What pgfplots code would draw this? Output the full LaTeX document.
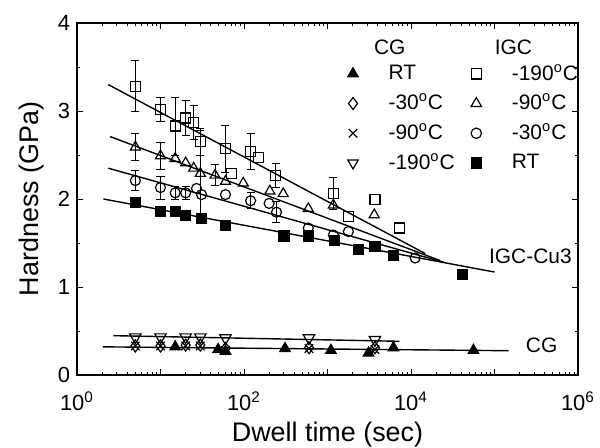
\documentclass[border=0pt]{standalone}
\usepackage{fontspec}
\setmainfont{Liberation Sans}
\usepackage{pgfplots}
\pgfplotsset{compat=1.18}

\pgfplotsset{
  fitline/.style={black, line width=0.7pt, no marks, forget plot},
  ebar/.style={draw=none, mark=none, forget plot,
    error bars/.cd, y dir=both, y explicit,
    error bar style={draw=black, solid, line width=0.5pt},
    error mark options={rotate=90, mark size=2bp, black, solid}},
  pts/.style={only marks, black, line width=0.6pt, forget plot},
  key/.style={only marks, black, line width=0.6pt},
}

\begin{document}
\begin{tikzpicture}
\begin{axis}[
  xmode=log,
  scale only axis,
  width=250.5bp, height=176bp,
  xmin=1, xmax=1e6, ymin=0, ymax=4,
  xtick={1,10,100,1000,10000,100000,1000000},
  xticklabels={10\textsuperscript{0},,10\textsuperscript{2},,10\textsuperscript{4},,10\textsuperscript{6}},
  ytick={0,1,2,3,4},
  minor ytick={0.5,1.5,2.5,3.5},
  tick align=inside,
  major tick length=3bp, minor tick length=1.5bp,
  tick style={black, line width=0.5pt},
  axis line style={black, line width=0.7pt},
  /pgf/number format/assume math mode=true,
  tick label style={font=\fontsize{11}{13}\selectfont},
  xticklabel style={yshift=-5bp},
  label style={font=\fontsize{13.5}{16}\selectfont},
  xlabel={Dwell time (sec)},
  ylabel={Hardness (GPa)},
  xlabel style={at={(axis description cs:0.5,-0.1903)}, anchor=base},
  ylabel style={at={(axis description cs:-0.09,0.5)}, anchor=center},
  clip=false,
  legend columns=2,
  legend cell align=left,
  legend image code/.code={\path (0bp,0bp) (16bp,0bp); \draw[#1] plot coordinates {(8bp,0bp)};},
  legend style={draw=none, fill=none, at={(axis description cs:0.517,0.895)},
    anchor=north west, inner xsep=0pt, inner ysep=0pt,
    font=\fontsize{10.5}{12}\selectfont, row sep=1.5bp,
    /tikz/every odd column/.append style={column sep=7.5bp},
    /tikz/every even column/.append style={column sep=0.5bp}},
]
\coordinate (o) at (rel axis cs:0,0);

% fitted lines
\addplot[fitline] coordinates {(2.37,3.30) (14800,1.38)};
\addplot[fitline] coordinates {(2.48,2.71) (22400,1.30)};
\addplot[fitline] coordinates {(2.37,2.35) (25000,1.28)};
\addplot[fitline] coordinates {(2.07,2.00) (100000,1.17)};
\addplot[fitline] coordinates {(2.72,0.447) (7244,0.383)};
\addplot[fitline] coordinates {(2.04,0.32) (148000,0.276)};

% error bars
\addplot[ebar] table[x=t, y=h, y error=e] {
t h e
5 3.28 0.29
10 3.02 0.14
15 2.83 0.33
20 2.92 0.20
25 2.87 0.19
30 2.65 0.15
60 2.57 0.27
120 2.54 0.20
240 2.27 0.14
1175 2.06 0.18
};
\addplot[ebar] table[x=t, y=h, y error=e] {
t h e
5 2.59 0.15
10 2.49 0.15
30 2.29 0.49
45 2.27 0.12
};
\addplot[ebar] table[x=t, y=h, y error=e] {
t h e
5 2.21 0.11
10 2.13 0.13
15 2.07 0.07
20 2.07 0.07
120 1.98 0.09
245 1.85 0.12
};

% IGC -190
\addplot[pts, mark=square, mark size=2.5bp] table {
5 3.28
10 3.02
15 2.83
20 2.92
25 2.87
30 2.65
60 2.57
71 2.29
120 2.54
150 2.47
240 2.27
1175 2.06
1780 1.80
3715 1.99
7244 1.67
};
% IGC -90
\addplot[pts, mark=triangle, mark size=2.9bp] table {
5 2.59
10 2.49
15 2.46
20 2.41
25 2.35
30 2.29
45 2.27
60 2.20
98 2.18
204 2.09
295 2.06
589 1.89
1175 1.93
3630 1.82
};
% IGC -30
\addplot[pts, mark=o, mark size=2.5bp] table {
5 2.21
10 2.13
15 2.07
20 2.07
27 2.12
31 2.05
60 2.05
120 1.98
200 1.95
245 1.85
589 1.67
1175 1.59
1778 1.63
11220 1.33
};
% IGC RT
\addplot[pts, mark=square*, mark size=2.5bp, fill=black] table {
5 1.96
10 1.86
15 1.86
20 1.81
31 1.78
60 1.70
302 1.58
589 1.58
1200 1.53
2344 1.43
3715 1.46
6166 1.36
41687 1.14
};
% CG -190
\addplot[pts, mark=triangle, mark size=3.3bp, mark options={rotate=180}] table {
5 0.43
10 0.43
20 0.43
30 0.43
60 0.42
600 0.42
3700 0.40
};
% CG -30
\addplot[pts, mark=diamond, mark size=3bp] table {
5 0.33
10 0.33
20 0.34
30 0.34
60 0.30
600 0.31
3700 0.31
};
% CG -90
\addplot[pts, mark=x, mark size=3bp] table {
5 0.33
10 0.33
20 0.33
30 0.33
60 0.28
600 0.30
3700 0.29
};
% CG RT
\addplot[pts, mark=triangle*, mark size=3bp, fill=black] table {
15 0.32
49 0.29
60 0.27
310 0.30
1100 0.28
3100 0.25
6170 0.31
56000 0.28
};

% legend keys, read row by row: CG column left, IGC column right
\addlegendimage{key, mark=triangle*, mark size=3bp, fill=black}\addlegendentry{RT}
\addlegendimage{key, mark=square, mark size=2.6bp}\addlegendentry{-190\textsuperscript{o}C}
\addlegendimage{key, mark=diamond, mark size=3bp}\addlegendentry{-30\textsuperscript{o}C}
\addlegendimage{key, mark=triangle, mark size=3bp}\addlegendentry{-90\textsuperscript{o}C}
\addlegendimage{key, mark=x, mark size=3bp}\addlegendentry{-90\textsuperscript{o}C}
\addlegendimage{key, mark=o, mark size=2.6bp}\addlegendentry{-30\textsuperscript{o}C}
\addlegendimage{key, mark=triangle, mark size=3bp, mark options={rotate=180}}\addlegendentry{-190\textsuperscript{o}C}
\addlegendimage{key, mark=square*, mark size=2.6bp, fill=black}\addlegendentry{RT}

\node[anchor=west, font=\fontsize{10.5}{12}\selectfont] at (axis description cs:0.579,0.932) {CG};
\node[anchor=west, font=\fontsize{10.5}{12}\selectfont] at (axis description cs:0.820,0.932) {IGC};
\node[font=\fontsize{10.5}{12}\selectfont] at (axis cs:269000,1.35) {IGC-Cu3};
\node[font=\fontsize{10.5}{12}\selectfont] at (axis cs:367000,0.333) {CG};
\end{axis}
\pgfresetboundingbox
\path[use as bounding box] (o) ++(-38.5bp,-36.5bp) rectangle ++(300bp,224bp);
\end{tikzpicture}
\end{document}
